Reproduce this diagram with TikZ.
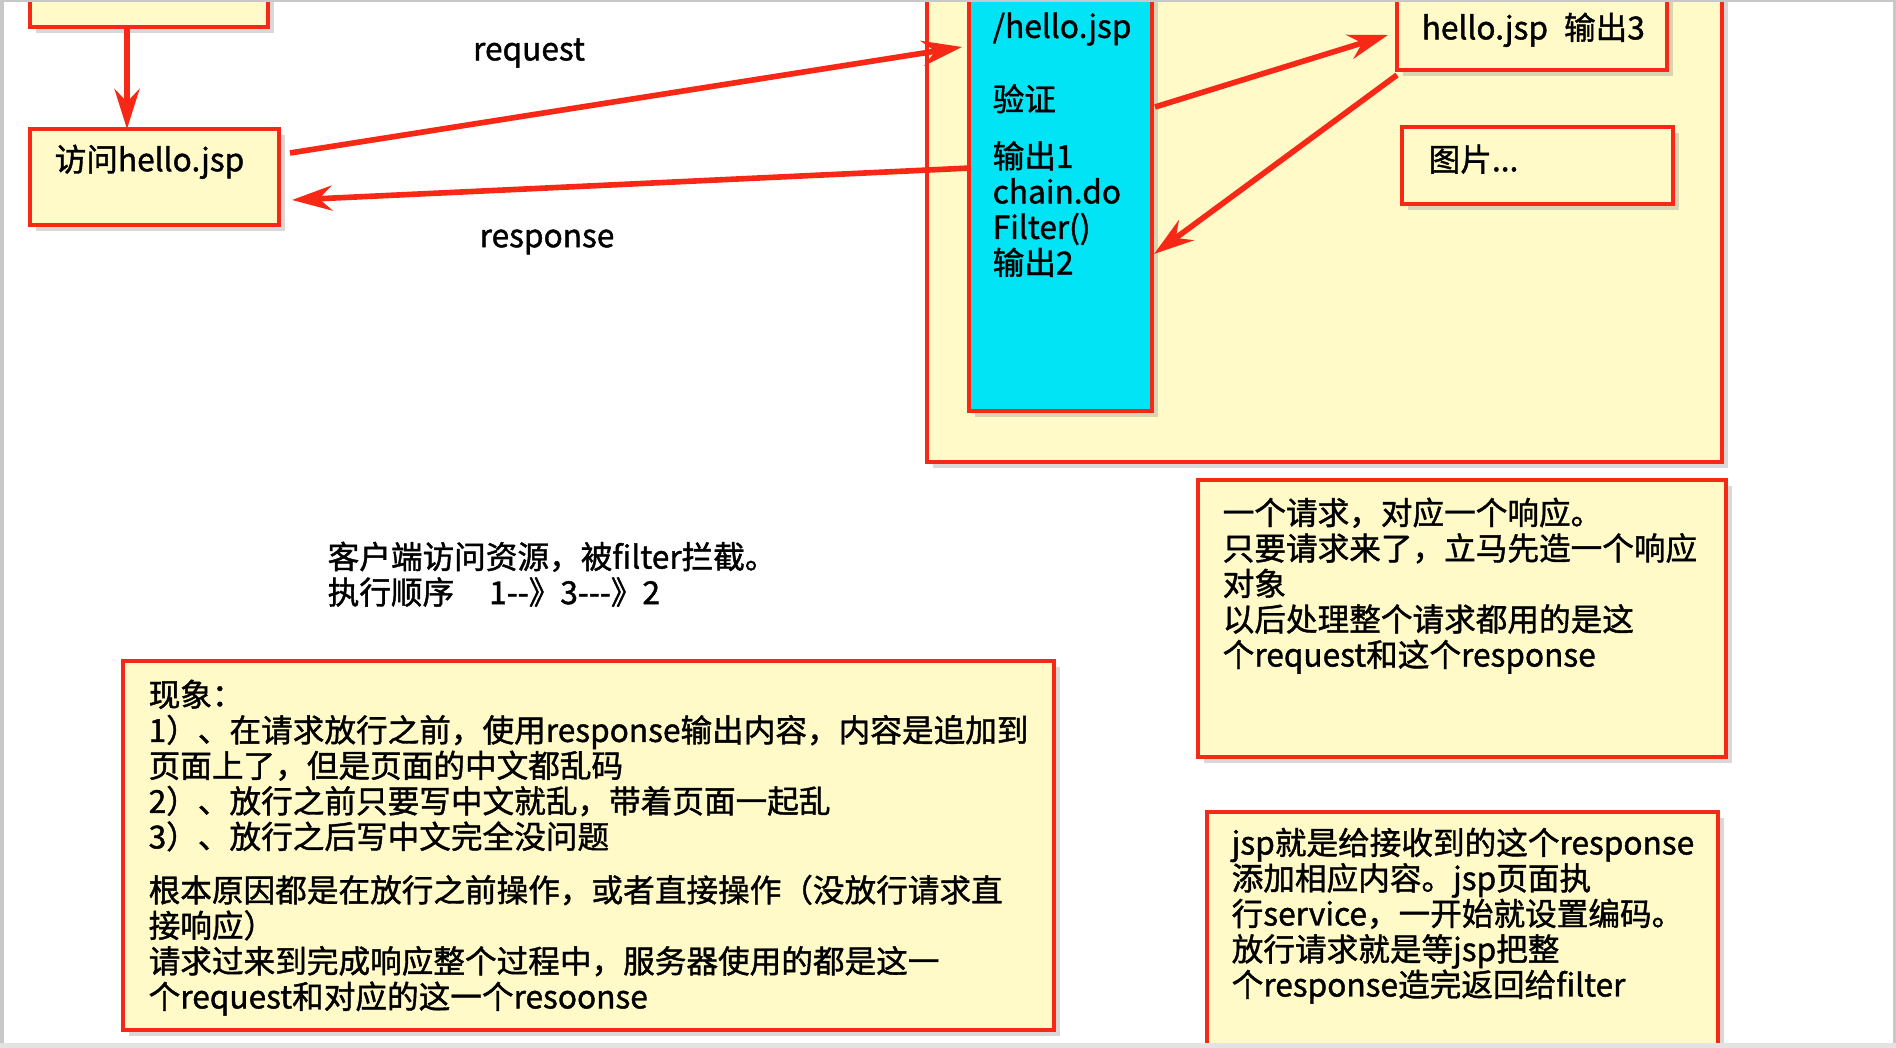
\documentclass[tikz,border=0pt]{standalone}
\usepackage{fontspec}
\setmainfont{Noto Sans CJK SC}[FakeBold=1.3]
\usetikzlibrary{arrows.meta,calc,fit,shadows}
\definecolor{notered}{RGB}{248,40,22}
\definecolor{noteyellow}{RGB}{255,250,200}
\definecolor{filtercyan}{RGB}{0,228,245}
\definecolor{edgegray}{RGB}{200,200,200}

\begin{document}
\begin{tikzpicture}[x=0.1mm, y=-0.1mm,
    note/.style={draw=notered, line width=1.1pt, fill=noteyellow, inner sep=0pt, outer sep=0pt,
        drop shadow={shadow xshift=0.6mm, shadow yshift=-0.6mm, opacity=0.3}},
    txt/.style={anchor=north west, inner sep=0pt, align=left,
        font=\fontsize{9pt}{10.1pt}\selectfont},
    flow/.style={draw=notered, line width=1.6pt, -{Stealth[length=4mm, width=2.5mm]}}]
    \useasboundingbox (0,0) rectangle (1896,1048);
    \fill[white] (0,0) rectangle (1896,1048);

    % boxes, some of them run past the top edge
    \node[note, fit={(30,-30) (268,27)}] (start) {};
    \node[note, fit={(30,129) (279,225)}] (visit) {};
    \node[note, fit={(927,-30) (1722,462)}] (server) {};
    \node[note, fill=filtercyan, fit={(969,-30) (1152,411)}] (filter) {};
    \node[note, fit={(1397,-30) (1667,70)}] (page) {};
    \node[note, fit={(1402,127) (1673,204)}] (image) {};
    \node[note, fit={(123,661) (1054,1030)}] (effect) {};
    \node[note, fit={(1198,480) (1726,757)}] (oneres) {};
    \node[note, fit={(1207,812) (1718,1070)}] (jspnote) {};

    % texts
    \node[txt] (visittext) at (54,144) {访问hello.jsp};
    \node[txt, anchor=center] (reqlabel) at (529,53) {request};
    \node[txt, anchor=center] (reslabel) at (547,242) {response};
    \node[txt] (filtertext) at (992,12) {/hello.jsp\\[3.75mm]验证\\[2.15mm]输出1\\chain.do\\Filter()\\输出2};
    \node[txt] (pagetext) at (1421,12) {hello.jsp\hspace{1.6mm}输出3};
    \node[txt] (imagetext) at (1428,144) {图片...};
    \node[txt] (intro) at (327,541) {客户端访问资源，被filter拦截。\\执行顺序\hspace{3.5mm}1-{}-》3-{}-{}-》2};
    \node[txt] (effecttext) at (148,679) {现象：\\1）、在请求放行之前，使用response输出内容，内容是追加到\\页面上了，但是页面的中文都乱码\\2）、放行之前只要写中文就乱，带着页面一起乱\\3）、放行之后写中文完全没问题\\[1.8mm]根本原因都是在放行之前操作，或者直接操作（没放行请求直\\接响应）\\请求过来到完成响应整个过程中，服务器使用的都是这一\\个request和对应的这一个resoonse};
    \node[txt] (onerestext) at (1222,497) {一个请求，对应一个响应。\\只要请求来了，立马先造一个响应\\对象\\以后处理整个请求都用的是这\\个request和这个response};
    \node[txt] (jsptext) at (1231,827) {jsp就是给接收到的这个response\\添加相应内容。jsp页面执\\行service，一开始就设置编码。\\放行请求就是等jsp把整\\个response造完返回给filter};

    % arrows
    \draw[flow] ($(start.south west)+(97,0)$) -- ($(visit.north west)+(97,0)$);
    \draw[flow] ($(visit.north east)+(11,24)$) -- ($(filter.north west)+(-7,77)$);
    \draw[flow] ($(filter.north west)+(2,198)$) -- ($(visit.north east)+(13,71)$);
    \draw[flow] ($(filter.north east)+(3,137)$) -- ($(page.south west)+(-9,-35)$);
    \draw[flow] ($(page.south west)+(0,5)$) -- ($(filter.north east)+(2,284)$);

    % screen edges
    \fill[edgegray] (0,0) rectangle (4,1048);
    \fill[edgegray] (1893,0) rectangle (1896,1048);
    \fill[edgegray] (0,0) rectangle (1896,2);
    \fill[edgegray!50] (0,1043) rectangle (1896,1048);
\end{tikzpicture}
\end{document}
